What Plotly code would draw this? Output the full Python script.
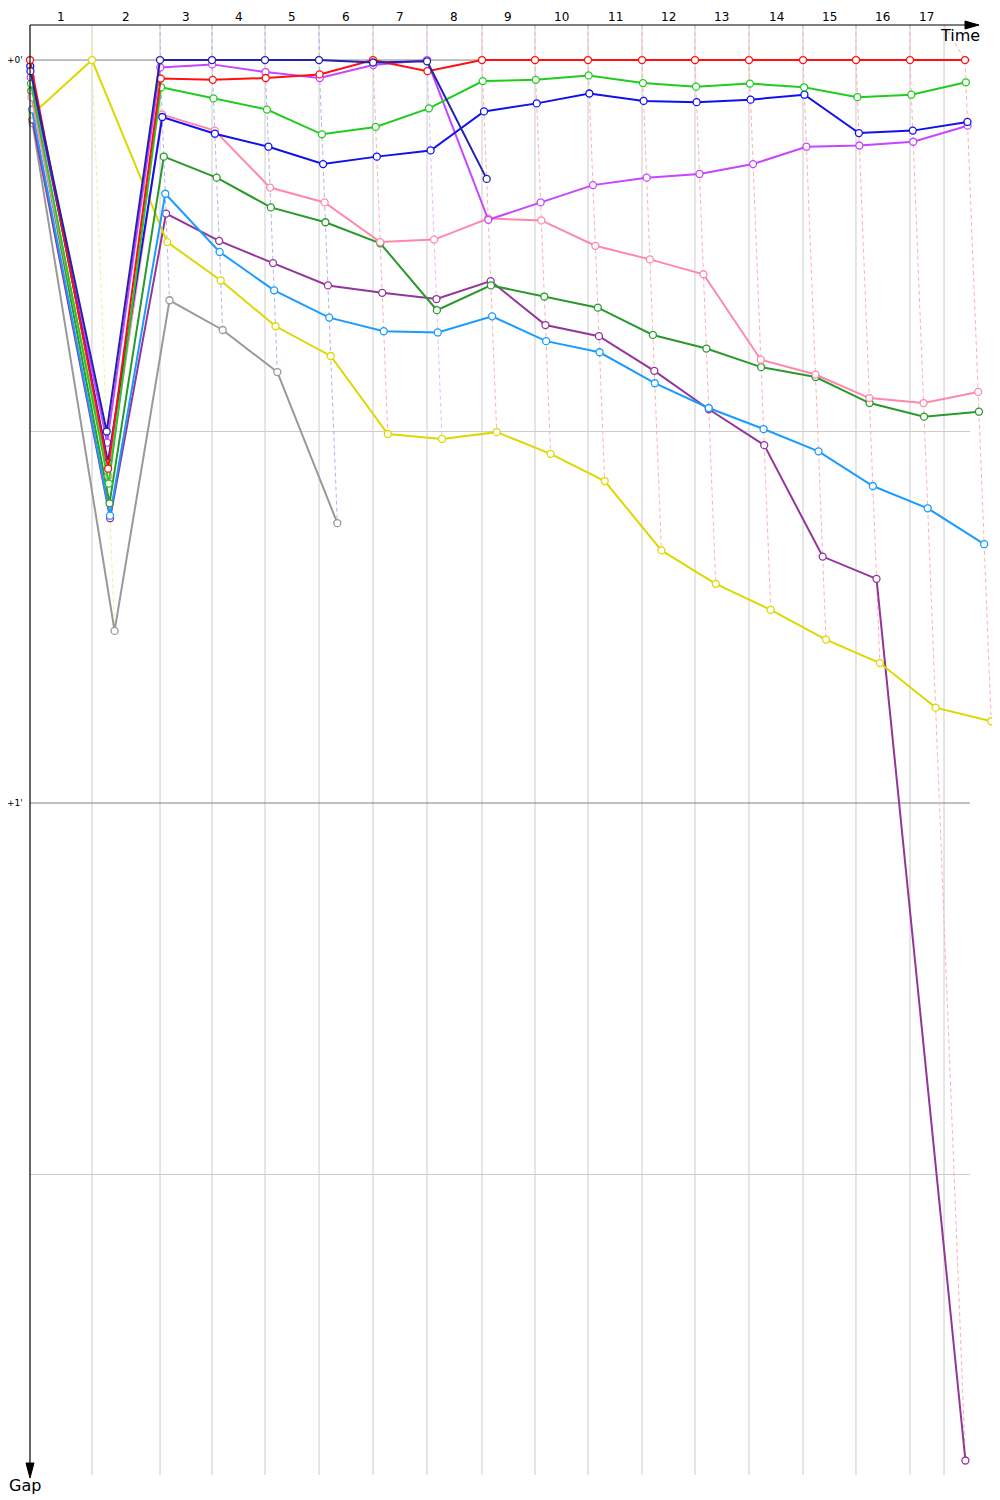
import plotly.graph_objects as go

# ---------------- data (seconds) ----------------
laps = list(range(0, 18))  # lap 0 = start
lap_labels = [str(i) for i in range(1, 18)]

# cumulative race time of the leader at the end of each lap (lap 0 = start)
leader_time = [0, 126.5, 265.3, 371.4, 479.6, 589.8, 700.0, 810.2, 922.4, 1030.6,
               1138.8, 1249.0, 1357.1, 1467.3, 1577.6, 1685.7, 1795.9, 1908.2]
# vertical lap lines (laps 1..17)
lap_line_time = [126.5, 265.3, 371.4, 479.6, 589.8, 700.0, 810.2, 922.4, 1030.6,
                 1138.8, 1249.0, 1357.1, 1467.3, 1577.6, 1685.7, 1795.9, 1865.3]

gap_red = [0, 33.0, 1.5, 1.6, 1.45, 1.16, 0, 0.9, 0, 0, 0, 0, 0, 0, 0, 0, 0, 0]
gap_green = [1.9, 34.2, 2.2, 3.1, 4.0, 6.0, 5.4, 3.9, 1.7, 1.6, 1.24, 1.86, 2.15, 1.9, 2.2, 3.0, 2.8, 1.8]
gap_blue = [0.5, 32.5, 4.6, 5.95, 7.0, 8.4, 7.8, 7.3, 4.15, 3.5, 2.7, 3.3, 3.4, 3.2, 2.8, 5.9, 5.7, 5.0]
gap_navy = [0.9, 30.0, 0, 0, 0, 0, 0.2, 0.1, 9.6]
gap_magenta = [1.4, 30.9, 0.6, 0.35, 0.97, 1.45, 0.4, 0, 12.9, 11.5, 10.1, 9.5, 9.2, 8.4, 7.0, 6.9, 6.6, 5.3]
gap_pink = [3.0, 33.6, 4.4, 5.7, 10.3, 11.5, 14.7, 14.5, 12.8, 12.95, 15.0, 16.1, 17.3, 24.2, 25.4, 27.3, 27.7, 26.8]
gap_darkgreen = [2.5, 35.8, 7.8, 9.5, 11.9, 13.1, 14.8, 20.2, 18.2, 19.1, 20.0, 22.2, 23.3, 24.8, 25.6, 27.7, 28.8, 28.4]
gap_purple = [4.8, 37.0, 12.4, 14.6, 16.4, 18.2, 18.8, 19.3, 17.85, 21.4, 22.3, 25.1, 28.2, 31.1, 40.1, 41.9, 113.1]
gap_cyan = [4.0, 36.8, 10.8, 15.5, 18.6, 20.8, 21.9, 22.0, 20.7, 22.7, 23.6, 26.1, 28.1, 29.8, 31.6, 34.4, 36.2, 39.1]
gap_yellow = [4.4, 0, 14.7, 17.8, 21.5, 23.9, 30.2, 30.6, 30.05, 31.8, 34.0, 39.6, 42.3, 44.4, 46.8, 48.7, 52.3, 53.4]
gap_grey = [5.1, 46.1, 19.4, 21.8, 25.2, 37.4]

drivers = [
    # name, gaps, line colour, light (lap-line) colour
    ("grey", gap_grey, "#999999", "#d0d0d0"),
    ("purple", gap_purple, "#93359b", "#d8aadd"),
    ("yellow", gap_yellow, "#dcd800", "#f2f09a"),
    ("cyan", gap_cyan, "#1a9cff", "#a8d4ff"),
    ("darkgreen", gap_darkgreen, "#28992a", "#a8dca8"),
    ("pink", gap_pink, "#ff88aa", "#ffc8d6"),
    ("magenta", gap_magenta, "#c845ff", "#ecb8ff"),
    ("blue", gap_blue, "#1010f0", "#b0b0ff"),
    ("green", gap_green, "#20cc20", "#a8eea8"),
    ("red", gap_red, "#ff1010", "#ffb0b0"),
    ("navy", gap_navy, "#2222aa", "#b4b4ee"),
]

# ---------------- geometry ----------------
PLOT_W = 968.0          # plot area width in px (screen x 30..998)
X_MAX = PLOT_W / 0.49   # right edge of plot area (s)
Y_TOP, Y_BOT = -2.83, 114.27
H_LINE_END = 1918.4

fig = go.Figure()

# lap lines (dashed, through each lap's points, coloured after that lap's leader)
for li, lap in enumerate(range(1, 18)):
    pts = []
    for name, g, col, light in drivers:
        if lap < len(g):
            pts.append((g[lap], leader_time[lap] + g[lap], light))
    pts.sort(key=lambda p: p[0])
    leader_light = pts[0][2]
    xs = [lap_line_time[li]] + [p[1] for p in pts]
    ys = [Y_TOP] + [p[0] for p in pts]
    fig.add_trace(go.Scatter(x=xs, y=ys, mode="lines",
                             line=dict(color=leader_light, width=1, dash="4px,3px"),
                             hoverinfo="skip", showlegend=False, cliponaxis=False))

# driver lines
for name, g, col, light in drivers:
    xs = [leader_time[i] + g[i] for i in range(len(g))]
    fig.add_trace(go.Scatter(x=xs, y=g, mode="lines+markers", name=name,
                             line=dict(color=col, width=2),
                             marker=dict(symbol="circle", size=7, color="white",
                                         line=dict(color=col, width=1.3)),
                             showlegend=False, cliponaxis=False))

shapes = []
# vertical lap grid lines
for t in lap_line_time:
    shapes.append(dict(type="line", xref="x", yref="y", x0=t, x1=t, y0=Y_TOP, y1=Y_BOT,
                       line=dict(color="#cccccc", width=1), layer="below"))
# horizontal gap lines
for gv, c in [(0, "#808080"), (30, "#cccccc"), (60, "#808080"), (90, "#cccccc")]:
    shapes.append(dict(type="line", xref="x", yref="y", x0=0, x1=H_LINE_END, y0=gv, y1=gv,
                       line=dict(color=c, width=1), layer="below"))

def px(xp):
    return (xp - 30) / PLOT_W

def py(yp):
    return (1475 - yp) / 1450.0

# axes with arrows
shapes.append(dict(type="line", xref="paper", yref="paper", x0=px(30), x1=px(968), y0=py(25), y1=py(25),
                   line=dict(color="black", width=1.2)))
shapes.append(dict(type="path", xref="paper", yref="paper",
                   path=f"M {px(965)} {py(21)} L {px(979)} {py(25)} L {px(965)} {py(29)} Z",
                   fillcolor="black", line=dict(color="black", width=1)))
shapes.append(dict(type="line", xref="paper", yref="paper", x0=px(30), x1=px(30), y0=py(25), y1=py(1466),
                   line=dict(color="black", width=1.2)))
shapes.append(dict(type="path", xref="paper", yref="paper",
                   path=f"M {px(26)} {py(1463)} L {px(30)} {py(1478)} L {px(34)} {py(1463)} Z",
                   fillcolor="black", line=dict(color="black", width=1)))

annotations = []
bounds = [0] + lap_line_time
for i, lab in enumerate(lap_labels):
    mid = (bounds[i] + bounds[i + 1]) / 2
    annotations.append(dict(x=mid, y=py(17.5), xref="x", yref="paper", text=lab, showarrow=False,
                            font=dict(size=12, color="black"), xanchor="center", yanchor="middle"))
for gv, t in [(0, "+0'"), (60, "+1'")]:
    annotations.append(dict(x=px(15), y=gv, xref="paper", yref="y", text=t, showarrow=False,
                            font=dict(size=9, color="black"), xanchor="center", yanchor="middle"))
annotations.append(dict(x=px(960), y=py(35), xref="paper", yref="paper", text="Time", showarrow=False,
                        font=dict(size=16, color="black"), xanchor="center", yanchor="middle"))
annotations.append(dict(x=px(25), y=py(1485), xref="paper", yref="paper", text="Gap", showarrow=False,
                        font=dict(size=16, color="black"), xanchor="center", yanchor="middle"))

# the page body adds an 8px offset, so the figure is 8px smaller and margins shifted
fig.update_layout(
    width=992, height=1492,
    margin=dict(l=22, r=2, t=17, b=25),
    paper_bgcolor="white", plot_bgcolor="white",
    font=dict(family="DejaVu Sans, Verdana, sans-serif"),
    xaxis=dict(range=[0, X_MAX], showgrid=False, zeroline=False, showticklabels=False,
               showline=False, fixedrange=True),
    yaxis=dict(range=[Y_BOT, Y_TOP], showgrid=False, zeroline=False, showticklabels=False,
               showline=False, fixedrange=True),
    shapes=shapes, annotations=annotations, showlegend=False,
)

fig.write_html("out.html")
